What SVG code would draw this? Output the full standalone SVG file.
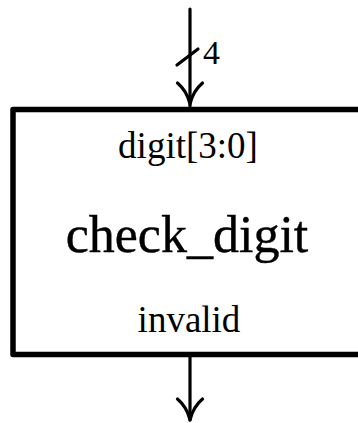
<svg xmlns="http://www.w3.org/2000/svg" width="358" height="423" viewBox="0 0 358 423">
<style>
.lbl{font-family:"Liberation Serif","Times New Roman",serif;fill:#000;text-anchor:middle}
.wire{stroke:#000;stroke-width:3.2;fill:none;stroke-linecap:round}
.head{stroke:#000;stroke-width:3.2;fill:none;stroke-linecap:round;stroke-linejoin:round}
</style>
<rect width="358" height="423" fill="#fff"/>
<g id="connectors">
<line class="wire" x1="190" y1="9" x2="190" y2="106"/>
<path class="head" d="M177.5,83 Q187,91 190,104 Q193,91 202.5,83"/>
<line class="wire" x1="177" y1="65" x2="198" y2="49"/>
<text class="lbl" x="211.5" y="64" font-size="34">4</text>
<line class="wire" x1="190" y1="356" x2="190" y2="420"/>
<path class="head" d="M177.5,399 Q187,407 190,420 Q193,407 202.5,399"/>
</g>
<g id="check_digit">
<path d="M370,109.5 H13 V354.5 H370" fill="none" stroke="#000" stroke-width="5.5" stroke-linejoin="round"/>
<text class="lbl" x="188" y="158" font-size="37">digit[3:0]</text>
<text class="lbl" x="187" y="252" font-size="52" stroke="#000" stroke-width="0.4">check_digit</text>
<text class="lbl" x="189" y="332" font-size="37">invalid</text>
</g>
</svg>
